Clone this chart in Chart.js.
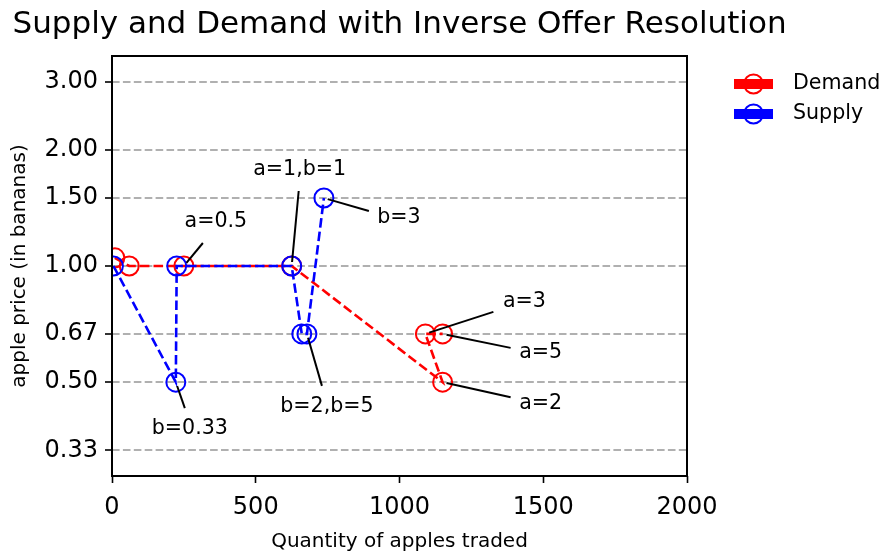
<!DOCTYPE html>
<html>
<head>
<meta charset="utf-8">
<script src="https://cdn.jsdelivr.net/npm/chart.js@4.4.1/dist/chart.umd.min.js"></script>
<style>
  html, body { margin: 0; padding: 0; background: #fff; }
  #wrap { width: 881px; height: 554px; }
</style>
</head>
<body>
<div id="wrap"><canvas id="chart" width="881" height="554"></canvas></div>
<script>
// Demand (red) and Supply (blue) offers, quantity vs price
const demandQty = [10, 60, 250, 625, 1150, 1090, 1150];
const demandPrice = [1.05, 1.0, 1.0, 1.0, 0.5, 0.667, 0.667];
const supplyQty = [5, 222, 225, 625, 660, 678, 737];
const supplyPrice = [1.0, 0.5, 1.0, 1.0, 0.667, 0.667, 1.5];

// axis ticks
const priceTicks = [0.333, 0.5, 0.667, 1.0, 1.5, 2.0, 3.0];
const priceLabels = ['0.33', '0.50', '0.67', '1.00', '1.50', '2.00', '3.00'];
const qtyTicks = [0, 500, 1000, 1500, 2000];

// point annotations
const noteText = ['a=0.5', 'a=1,b=1', 'b=3', 'a=3', 'a=5', 'a=2', 'b=2,b=5', 'b=0.33'];
const noteQty = [250, 625, 737, 1090, 1150, 1150, 678, 222];
const notePrice = [1.0, 1.0, 1.5, 0.667, 0.667, 0.5, 0.667, 0.5];
// label centre and leader start, in px relative to the point
const noteOffsets = [
    [32, -44, 19, -23],
    [8, -96, 7, -75],
    [75, 20, 45, 13],
    [99, -32, 68, -22],
    [98, 19, 68, 14],
    [98, 21, 68, 15],
    [20, 73, 15, 52],
    [14, 46, 9, 26]
];

const FONT = '"DejaVu Sans", sans-serif';

const toPoints = (xs, ys) => xs.map((v, i) => ({ x: v, y: ys[i] }));

// title, legend, annotations and the axes box
const extras = {
    id: 'extras',
    afterDatasetsDraw(chart) {
        const { ctx, chartArea: a, scales: { x, y } } = chart;
        ctx.save();
        ctx.strokeStyle = '#000';
        ctx.fillStyle = '#000';
        ctx.lineWidth = 2;
        ctx.font = '20.6px ' + FONT;
        ctx.textAlign = 'center';
        ctx.textBaseline = 'middle';
        noteText.forEach((t, i) => {
            const px = x.getPixelForValue(noteQty[i]);
            const py = y.getPixelForValue(notePrice[i]);
            const [tx, ty, lx, ly] = noteOffsets[i];
            const len = Math.hypot(lx, ly);
            ctx.beginPath();
            ctx.moveTo(px + lx, py + ly);
            ctx.lineTo(px + lx / len * 4, py + ly / len * 4);
            ctx.stroke();
            ctx.fillText(t, px + tx, py + ty);
        });

        ctx.lineWidth = 2;
        ctx.strokeRect(a.left, a.top, a.right - a.left, a.bottom - a.top);

        // title centred over the plot
        ctx.font = '31px ' + FONT;
        ctx.textBaseline = 'alphabetic';
        ctx.fillText('Supply and Demand with Inverse Offer Resolution', (a.left + a.right) / 2, 33);

        // legend
        ctx.font = '20.6px ' + FONT;
        ctx.textAlign = 'left';
        ctx.textBaseline = 'middle';
        chart.data.datasets.slice().reverse().forEach((ds, i) => {
            const cy = 84 + i * 30;
            const lx = a.right + 47;
            ctx.fillStyle = ds.borderColor;
            ctx.fillRect(lx, cy - 5, 39, 10);
            ctx.beginPath();
            ctx.arc(lx + 19.5, cy, 9.5, 0, Math.PI * 2);
            ctx.strokeStyle = ds.borderColor;
            ctx.lineWidth = 2;
            ctx.stroke();
            ctx.fillStyle = '#000';
            ctx.fillText(ds.label, lx + 59, cy);
        });
        ctx.restore();
    }
};

const ctx = document.getElementById('chart').getContext('2d');
const chart = new Chart(ctx, {
    type: 'scatter',
    data: {
        datasets: [{
            label: 'Supply',
            data: toPoints(supplyQty, supplyPrice),
            showLine: true,
            borderColor: '#0000ff',
            backgroundColor: 'rgba(0,0,0,0)',
            borderWidth: 2.6,
            borderDash: [9.5, 4.1],
            pointRadius: 9.5,
            pointBorderWidth: 2,
            pointBorderColor: '#0000ff',
            pointBackgroundColor: 'rgba(0,0,0,0)',
            order: 0
        }, {
            label: 'Demand',
            data: toPoints(demandQty, demandPrice),
            showLine: true,
            borderColor: '#ff0000',
            backgroundColor: 'rgba(0,0,0,0)',
            borderWidth: 2.6,
            borderDash: [9.5, 4.1],
            pointRadius: 9.5,
            pointBorderWidth: 2,
            pointBorderColor: '#ff0000',
            pointBackgroundColor: 'rgba(0,0,0,0)',
            order: 1
        }]
    },
    options: {
        responsive: false,
        animation: false,
        layout: { padding: { top: 56, right: 194, left: 0, bottom: 0 } },
        plugins: {
            legend: { display: false },
            tooltip: { enabled: false },
            title: { display: false }
        },
        scales: {
            x: {
                type: 'linear',
                min: 0,
                max: 2000,
                afterBuildTicks: axis => { axis.ticks = qtyTicks.map(v => ({ value: v })); },
                afterFit: axis => { axis.height = 78; },
                ticks: {
                    font: { family: FONT, size: 24 },
                    color: '#000',
                    padding: 10,
                    maxRotation: 0,
                    callback: v => String(v)
                },
                grid: {
                    drawOnChartArea: false,
                    tickLength: 7,
                    tickColor: '#000',
                    tickWidth: 1.6
                },
                border: { display: false },
                title: {
                    display: true,
                    text: 'Quantity of apples traded',
                    font: { family: FONT, size: 20 },
                    color: '#000',
                    padding: { top: 0, bottom: 0 }
                }
            },
            y: {
                type: 'logarithmic',
                min: 1 / 3.5,
                max: 3.5,
                afterBuildTicks: axis => { axis.ticks = priceTicks.map(v => ({ value: v })); },
                afterFit: axis => { axis.width = 112; },
                ticks: {
                    font: { family: FONT, size: 24 },
                    color: '#000',
                    padding: 7,
                    callback: (v, i) => priceLabels[i]
                },
                grid: {
                    color: '#b0b0b0',
                    lineWidth: 2,
                    tickLength: 7,
                    tickColor: '#000',
                    tickWidth: 1.6,
                    tickBorderDash: []
                },
                border: { display: false, dash: [7.6, 3.3] },
                title: {
                    display: true,
                    text: 'apple price (in bananas)',
                    font: { family: FONT, size: 20 },
                    color: '#000',
                    padding: { top: 8, bottom: 0 }
                }
            }
        }
    },
    plugins: [extras]
});
</script>
</body>
</html>
